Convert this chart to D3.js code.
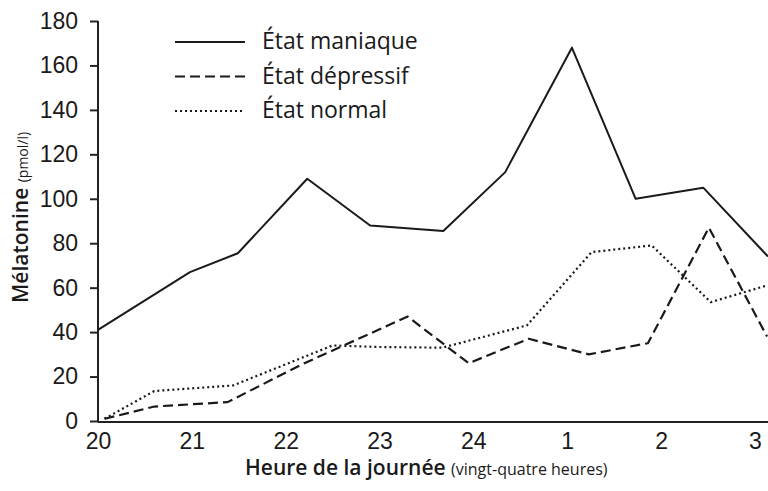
<!DOCTYPE html>
<html lang="fr">
<head>
<meta charset="utf-8">
<script src="https://cdn.jsdelivr.net/npm/d3@7"></script>
<style>
  html, body { margin: 0; padding: 0; background: #fff; }
  svg { display: block; font-family: "Open Sans", "Noto Sans", sans-serif; }
  .axis path, .axis line { stroke: #222; stroke-width: 2; }
  .axis text { fill: #1a1a1a; font-size: 23px; }
</style>
</head>
<body>
<svg id="chart" width="768" height="491"></svg>
<script>
// Hours on a continuous clock: 25 = 1 h, 26 = 2 h, 27 = 3 h
const hourTicks = [20, 21, 22, 23, 24, 25, 26, 27];
const hourLabels = ["20", "21", "22", "23", "24", "1", "2", "3"];
const yTicks = [0, 20, 40, 60, 80, 100, 120, 140, 160, 180];

// Melatonin (pmol/l) by state
const manicHours = [20.0, 20.98, 21.49, 22.23, 22.9, 23.68, 24.34, 25.05, 25.73, 26.45, 27.14];
const manicValues = [41, 67, 75.5, 109, 88, 85.5, 112, 168, 100, 105, 74];

const depressHours = [20.07, 20.6, 21.38, 22.2, 23.3, 23.95, 24.59, 25.23, 25.86, 26.51, 27.13];
const depressValues = [1, 6.5, 8.5, 26, 47, 26, 37, 30, 35, 87, 38];

const normalHours = [20.07, 20.6, 21.44, 22.5, 23.0, 23.67, 24.57, 25.26, 25.9, 26.53, 27.13];
const normalValues = [1, 13.5, 16, 34, 33.3, 33, 43, 76, 79, 53.5, 61];

const legendLabels = ["État maniaque", "État dépressif", "État normal"];

const series = [
  { name: legendLabels[0], hours: manicHours, values: manicValues, dash: null, width: 2 },
  { name: legendLabels[1], hours: depressHours, values: depressValues, dash: "10,5", width: 2.2 },
  { name: legendLabels[2], hours: normalHours, values: normalValues, dash: "2,3", width: 2.2 }
];

const svg = d3.select("#chart");
const x = d3.scaleLinear().domain([20, 27.14]).range([98, 768]);
const y = d3.scaleLinear().domain([0, 180]).range([421, 21]);

// Y axis with outward ticks
svg.append("g")
  .attr("class", "axis")
  .attr("transform", `translate(${x(20)},0)`)
  .call(d3.axisLeft(y).tickValues(yTicks).tickSize(8).tickPadding(12).tickSizeOuter(0))
  .call(g => g.select(".domain").attr("d", `M0,${y(180)}V${y(0) + 1}`));

// X axis: baseline only, labels under the hours
svg.append("g")
  .attr("class", "axis")
  .attr("transform", `translate(0,${y(0) + 1})`)
  .call(d3.axisBottom(x).tickValues(hourTicks).tickFormat((d, i) => hourLabels[i]).tickSize(0).tickPadding(11))
  .call(g => g.select(".domain").attr("d", `M${x(20)},0H768`));

const line = d3.line().x(d => x(d[0])).y(d => y(d[1]));

const plot = svg.append("g");
series.forEach(s => {
  plot.append("path")
    .datum(d3.zip(s.hours, s.values))
    .attr("d", line)
    .attr("fill", "none")
    .attr("stroke", "#1a1a1a")
    .attr("stroke-width", s.width)
    .attr("stroke-linejoin", "round")
    .attr("stroke-dasharray", s.dash);
});

// Legend
const legend = svg.append("g");
series.forEach((s, i) => {
  const ly = 42 + i * 34.5;
  legend.append("line")
    .attr("x1", 175).attr("x2", 245)
    .attr("y1", ly).attr("y2", ly)
    .attr("stroke", "#1a1a1a")
    .attr("stroke-width", s.width)
    .attr("stroke-dasharray", s.dash);
  legend.append("text")
    .attr("x", 262).attr("y", ly)
    .attr("dy", "0.32em")
    .attr("font-size", 23)
    .attr("fill", "#1a1a1a")
    .text(s.name);
});

// Axis titles
const xt = svg.append("text")
  .attr("x", 245).attr("y", 475)
  .attr("fill", "#1a1a1a");
xt.append("tspan").attr("font-size", 21).attr("font-weight", 600).text("Heure de la journée ");
xt.append("tspan").attr("font-size", 16).text("(vingt-quatre heures)");

const yt = svg.append("text")
  .attr("transform", "translate(28,303) rotate(-90)")
  .attr("fill", "#1a1a1a");
yt.append("tspan").attr("font-size", 21).attr("font-weight", 600).text("Mélatonine ");
yt.append("tspan").attr("font-size", 14).text("(pmol/l)");
</script>
</body>
</html>
